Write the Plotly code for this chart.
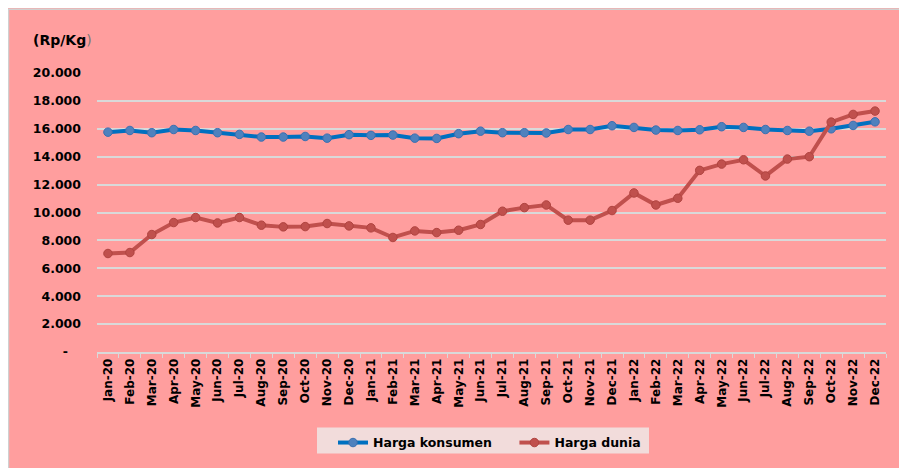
import plotly.graph_objects as go

months = ["Jan-20","Feb-20","Mar-20","Apr-20","May-20","Jun-20","Jul-20","Aug-20","Sep-20","Oct-20","Nov-20","Dec-20",
          "Jan-21","Feb-21","Mar-21","Apr-21","May-21","Jun-21","Jul-21","Aug-21","Sep-21","Oct-21","Nov-21","Dec-21",
          "Jan-22","Feb-22","Mar-22","Apr-22","May-22","Jun-22","Jul-22","Aug-22","Sep-22","Oct-22","Nov-22","Dec-22"]

harga_konsumen = [15760, 15880, 15720, 15950, 15880, 15720, 15600, 15410, 15410, 15450, 15330, 15580,
                  15530, 15550, 15330, 15310, 15650, 15830, 15720, 15720, 15700, 15950, 15950, 16220,
                  16100, 15910, 15880, 15930, 16150, 16100, 15950, 15880, 15830, 16000, 16240, 16500]

harga_dunia = [7060, 7130, 8420, 9280, 9640, 9250, 9640, 9090, 8970, 8990, 9210, 9040,
               8900, 8210, 8680, 8560, 8730, 9140, 10090, 10350, 10540, 9450, 9450, 10140,
               11400, 10540, 11020, 13020, 13470, 13780, 12620, 13830, 14000, 16480, 17030, 17270]

y_ticks = [0, 2000, 4000, 6000, 8000, 10000, 12000, 14000, 16000, 18000, 20000]
y_tick_text = ["-\u00a0\u00a0\u00a0", "2.000", "4.000", "6.000", "8.000", "10.000", "12.000", "14.000", "16.000", "18.000", "20.000"]

OFF = 8  # page body margin
W, H = 907, 468
# plot area in page coordinates: x 97..886, y 72.7..352
L = 97 - OFF
T = 72.7 - OFF
R = W - (886 - OFF)
B = H - (352 - OFF)
pw, ph = W - L - R, H - T - B
def px(x):
    return (x - OFF - L) / pw
def py(y):
    return (H - B - (y - OFF)) / ph

BG = "#FF9E9E"
FONT = "DejaVu Sans"

fig = go.Figure()
fig.add_trace(go.Scatter(
    x=months, y=harga_konsumen, name="Harga konsumen\u00a0\u00a0\u00a0\u00a0", mode="lines+markers",
    line=dict(color="#0070C0", width=4),
    marker=dict(symbol="circle", size=8.5, color="#4F81BD", line=dict(color="#3B6FB0", width=1)),
))
fig.add_trace(go.Scatter(
    x=months, y=harga_dunia, name="Harga dunia", mode="lines+markers",
    line=dict(color="#C0504D", width=4),
    marker=dict(symbol="circle", size=8.5, color="#C0504D", line=dict(color="#B04440", width=1)),
))

fig.update_layout(
    width=W, height=H,
    margin=dict(l=L, r=R, t=T, b=B, autoexpand=False),
    paper_bgcolor=BG, plot_bgcolor=BG,
    font=dict(family=FONT, color="#000000"),
    showlegend=True,
    legend=dict(
        orientation="h", x=px(333), xanchor="left", y=py(428), yanchor="top",
        bgcolor="rgba(0,0,0,0)", font=dict(family=FONT, size=12.5, color="#000000", weight="bold"),
        itemwidth=30, traceorder="normal",
    ),
    xaxis=dict(
        type="category", range=[-0.5, 35.5], showgrid=False, automargin=False,
        showline=True, linecolor="#D9D9D9", linewidth=1.5,
        ticks="outside", tickson="boundaries", ticklen=4, tickcolor="#D9D9D9", tickwidth=1,
        tickangle=-90, tickfont=dict(family=FONT, size=12, color="#000000", weight="bold"),
        fixedrange=True,
    ),
    yaxis=dict(
        range=[0, 20000], tickvals=y_ticks, ticktext=y_tick_text, automargin=False,
        showgrid=True, gridcolor="#D9D9D9", gridwidth=1.5, zeroline=False, showline=False,
        ticks="", ticklabelstandoff=15,
        tickfont=dict(family=FONT, size=12.5, color="#000000", weight="bold"),
        fixedrange=True,
    ),
    shapes=[
        dict(type="line", xref="paper", yref="paper", x0=px(8), x1=px(W), y0=py(9), y1=py(9),
             line=dict(color="#D0D0D0", width=1.5)),
        dict(type="line", xref="paper", yref="paper", x0=px(8.5), x1=px(8.5), y0=py(9), y1=py(H),
             line=dict(color="#D0D0D0", width=1.5)),
        dict(type="rect", xref="paper", yref="paper", x0=px(317), x1=px(649), y0=py(453.7), y1=py(427.7),
             fillcolor="#F2DCDB", line=dict(width=0), layer="below"),
    ],
    annotations=[
        dict(text="<b>(Rp/Kg</b><span style='color:#777777'>)</span>", xref="paper", yref="paper",
             x=px(31), y=py(40), xanchor="left", yanchor="middle", showarrow=False,
             font=dict(family=FONT, size=14, color="#000000")),
    ],
)

fig.write_html("out.html")
